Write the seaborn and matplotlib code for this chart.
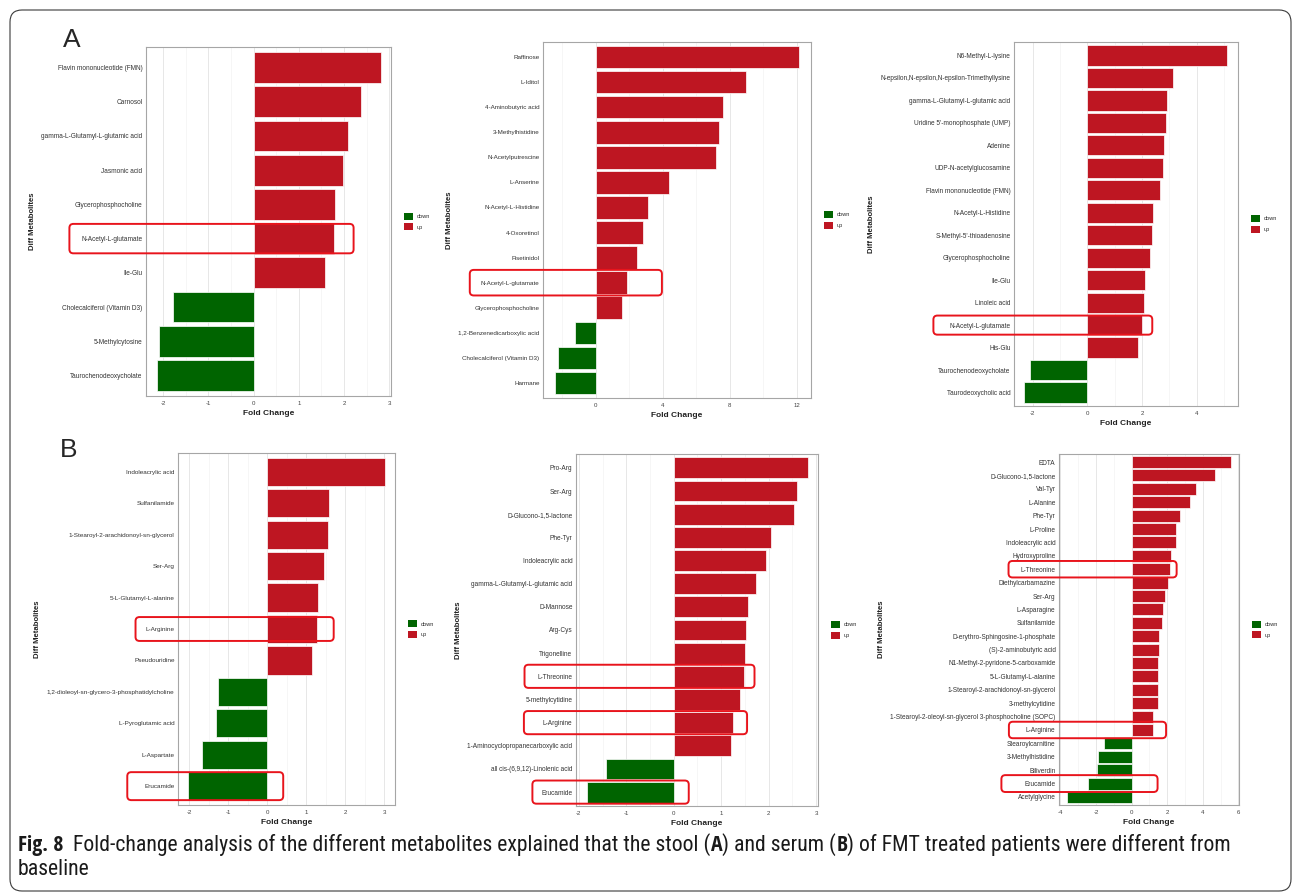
import matplotlib
matplotlib.use("Agg")
import matplotlib.pyplot as plt
from matplotlib import font_manager as fm
from matplotlib.patches import FancyBboxPatch, Patch
from matplotlib.transforms import IdentityTransform
from matplotlib.ticker import MultipleLocator
import numpy as np
import pandas as pd
import seaborn as sns

# ---------------- stool (A) ----------------
a1_names = ["Flavin mononucleotide (FMN)", "Carnosol", "gamma-L-Glutamyl-L-glutamic acid",
            "Jasmonic acid", "Glycerophosphocholine", "N-Acetyl-L-glutamate", "Ile-Glu",
            "Cholecalciferol (Vitamin D3)", "5-Methylcytosine", "Taurochenodeoxycholate"]
a1_fc = [2.82, 2.37, 2.09, 1.97, 1.80, 1.77, 1.59, -1.79, -2.10, -2.13]

a2_names = ["Raffinose", "L-Iditol", "4-Aminobutyric acid", "3-Methylhistidine",
            "N-Acetylputrescine", "L-Anserine", "N-Acetyl-L-Histidine", "4-Oxoretinol",
            "Fisetinidol", "N-Acetyl-L-glutamate", "Glycerophosphocholine",
            "1,2-Benzenedicarboxylic acid", "Cholecalciferol (Vitamin D3)", "Harmane"]
a2_fc = [12.10, 8.93, 7.58, 7.33, 7.15, 4.36, 3.10, 2.81, 2.43, 1.85, 1.57, -1.25, -2.29, -2.45]

a3_names = ["N6-Methyl-L-lysine", "N-epsilon,N-epsilon,N-epsilon-Trimethyllysine",
            "gamma-L-Glutamyl-L-glutamic acid", "Uridine 5'-monophosphate (UMP)", "Adenine",
            "UDP-N-acetylglucosamine", "Flavin mononucleotide (FMN)", "N-Acetyl-L-Histidine",
            "S-Methyl-5'-thioadenosine", "Glycerophosphocholine", "Ile-Glu", "Linoleic acid",
            "N-Acetyl-L-glutamate", "His-Glu", "Taurochenodeoxycholate", "Taurodeoxycholic acid"]
a3_fc = [5.12, 3.12, 2.93, 2.88, 2.80, 2.76, 2.64, 2.42, 2.36, 2.29, 2.11, 2.07, 2.01, 1.84,
         -2.10, -2.31]

# ---------------- serum (B) ----------------
b1_names = ["Indoleacrylic acid", "Sulfanilamide", "1-Stearoyl-2-arachidonoyl-sn-glycerol",
            "Ser-Arg", "5-L-Glutamyl-L-alanine", "L-Arginine", "Pseudouridine",
            "1,2-dioleoyl-sn-glycero-3-phosphatidylcholine", "L-Pyroglutamic acid",
            "L-Aspartate", "Erucamide"]
b1_fc = [3.03, 1.58, 1.55, 1.45, 1.31, 1.27, 1.15, -1.26, -1.32, -1.68, -2.03]

b2_names = ["Pro-Arg", "Ser-Arg", "D-Glucono-1,5-lactone", "Phe-Tyr", "Indoleacrylic acid",
            "gamma-L-Glutamyl-L-glutamic acid", "D-Mannose", "Arg-Cys", "Trigonelline",
            "L-Threonine", "5-methylcytidine", "L-Arginine",
            "1-Aminocyclopropanecarboxylic acid", "all cis-(6,9,12)-Linolenic acid", "Erucamide"]
b2_fc = [2.82, 2.60, 2.54, 2.06, 1.95, 1.74, 1.57, 1.52, 1.51, 1.47, 1.40, 1.25, 1.21,
         -1.43, -1.83]

b3_names = ["EDTA", "D-Glucono-1,5-lactone", "Val-Tyr", "L-Alanine", "Phe-Tyr", "L-Proline",
            "Indoleacrylic acid", "Hydroxyproline", "L-Threonine", "Diethylcarbamazine",
            "Ser-Arg", "L-Asparagine", "Sulfanilamide", "D-erythro-Sphingosine-1-phosphate",
            "(S)-2-aminobutyric acid", "N1-Methyl-2-pyridone-5-carboxamide",
            "5-L-Glutamyl-L-alanine", "1-Stearoyl-2-arachidonoyl-sn-glycerol",
            "3-methylcytidine", "1-Stearoyl-2-oleoyl-sn-glycerol 3-phosphocholine (SOPC)",
            "L-Arginine", "Stearoylcarnitine", "3-Methylhistidine", "Biliverdin", "Erucamide",
            "Acetylglycine"]
b3_fc = [5.61, 4.71, 3.64, 3.31, 2.74, 2.52, 2.50, 2.24, 2.14, 2.07, 1.90, 1.78, 1.73, 1.56,
         1.52, 1.50, 1.49, 1.48, 1.47, 1.22, 1.21, -1.56, -1.90, -1.97, -2.44, -3.62]

legend_labels = ["down", "up"]

caption_pieces = [
    ("Fig. 8", True),
    ("  Fold-change analysis of the different metabolites explained that the stool (", False),
    ("A", True), (") and serum (", False), ("B", True),
    (") of FMT treated patients were different from", False),
]
caption_line2 = "baseline"

# ---------------- style ----------------
sns.set_style("white")
plt.rcParams["font.family"] = ["Liberation Sans", "DejaVu Sans"]
plt.rcParams["axes.unicode_minus"] = False

RED = "#BE1622"
GREEN = "#006400"
BOX_RED = "#E8141C"
palette = {"down": GREEN, "up": RED}

W, H = 1295, 894
fig = plt.figure(figsize=(W / 100, H / 100), dpi=100)


def px_rect(l, t, r, b):
    return [l / W, 1 - b / H, (r - l) / W, (b - t) / H]


# panel frame (pixels), x range, tick steps, label size, highlighted rows
# highlight: (label, left pad, right pad, height in rows)
panels = [
    dict(names=a1_names, fc=a1_fc, frame=(146, 47, 391, 396), xlim=(-2.38, 3.04),
         major=1, minor=0.5, fs=4.7, hl=[("N-Acetyl-L-glutamate", 12, 20, 0.86)]),
    dict(names=a2_names, fc=a2_fc, frame=(543, 42, 811, 398), xlim=(-3.16, 12.84),
         major=4, minor=2, fs=4.5, hl=[("N-Acetyl-L-glutamate", 11, 35, 1.02)]),
    dict(names=a3_names, fc=a3_fc, frame=(1014, 42, 1238, 406), xlim=(-2.68, 5.51),
         major=2, minor=1, fs=4.7, hl=[("N-Acetyl-L-glutamate", 16, 10, 0.85)]),
    dict(names=b1_names, fc=b1_fc, frame=(178, 453, 395, 805), xlim=(-2.29, 3.28),
         major=1, minor=0.5, fs=4.6, hl=[("L-Arginine", 10, 17, 0.76),
                                          ("Erucamide", 17, 16, 0.89)]),
    dict(names=b2_names, fc=b2_fc, frame=(576, 454, 818, 806), xlim=(-2.06, 3.04),
         major=1, minor=0.5, fs=4.7, hl=[("L-Threonine", 13, 11, 1.0),
                                          ("L-Arginine", 19, 14, 1.0),
                                          ("Erucamide", 9, 15, 1.0)]),
    dict(names=b3_names, fc=b3_fc, frame=(1059, 454, 1239, 805), xlim=(-4.08, 6.04),
         major=2, minor=1, fs=4.7, hl=[("L-Threonine", 12, 7, 1.23),
                                        ("L-Arginine", 17, 13, 1.23),
                                        ("Erucamide", 23, 26, 1.26)]),
]

axes = []
for p in panels:
    ax = fig.add_axes(px_rect(*p["frame"]))
    df = pd.DataFrame({"metabolite": p["names"], "fc": p["fc"]})
    df["direction"] = np.where(df["fc"] > 0, "up", "down")
    sns.barplot(data=df, x="fc", y="metabolite", hue="direction", order=p["names"],
                hue_order=legend_labels, palette=palette, dodge=False, width=0.9,
                saturation=1, edgecolor="white", linewidth=0.5, legend=False, ax=ax)
    n = len(p["names"])
    ax.set_ylim(n - 0.4, -0.6)
    ax.set_xlim(*p["xlim"])
    ax.xaxis.set_major_locator(MultipleLocator(p["major"]))
    ax.xaxis.set_minor_locator(MultipleLocator(p["minor"]))
    ax.grid(axis="x", which="major", color="#E3E3E3", lw=0.6)
    ax.grid(axis="x", which="minor", color="#F0F0F0", lw=0.4)
    ax.set_axisbelow(True)
    for s in ax.spines.values():
        s.set_color("#A6A6A6")
        s.set_linewidth(0.8)
    ax.tick_params(axis="x", which="major", length=2, width=0.5, color="#666666",
                   labelsize=4.4, labelcolor="#444444", pad=1.5)
    ax.tick_params(axis="x", which="minor", length=0)
    ax.tick_params(axis="y", length=0, labelsize=p["fs"], labelcolor="#333333", pad=2.5)
    ax.set_xlabel("Fold Change", fontsize=6, fontweight="bold", labelpad=3, color="#222222")
    ax.set_ylabel("Diff Metabolites", fontsize=5.6, fontweight="bold", labelpad=4,
                  color="#222222")
    handles = [Patch(facecolor=palette[k], edgecolor="none", label=k) for k in legend_labels]
    axw = p["frame"][2] - p["frame"][0]
    ax.legend(handles=handles, loc="center left", bbox_to_anchor=(1 + 13 / axw, 0.5),
              frameon=False, fontsize=4, handlelength=1.6, handleheight=1.5,
              labelspacing=0.7, handletextpad=0.7, borderpad=0, borderaxespad=0)
    axes.append(ax)

# panel letters
fig.text(63 / W, 1 - 47 / H, "A", fontsize=19, va="baseline", ha="left")
fig.text(60 / W, 1 - 457 / H, "B", fontsize=19, va="baseline", ha="left")

# highlight boxes around selected rows
fig.canvas.draw()
renderer = fig.canvas.get_renderer()
for ax, p in zip(axes, panels):
    ticklabels = ax.get_yticklabels()
    for lab, lpad, rpad, hrows in p["hl"]:
        i = p["names"].index(lab)
        bb = ticklabels[i].get_window_extent(renderer)
        x0 = bb.x0 - lpad
        x1 = ax.transData.transform((max(p["fc"][i], 0), i))[0] + rpad
        yc = ax.transData.transform((0, i))[1]
        rowh = abs(ax.transData.transform((0, i + 0.5))[1]
                   - ax.transData.transform((0, i - 0.5))[1])
        h = rowh * hrows
        fig.add_artist(FancyBboxPatch((x0, yc - h / 2), x1 - x0, h,
                                      boxstyle="round,pad=0,rounding_size=4",
                                      transform=IdentityTransform(), fill=False,
                                      edgecolor=BOX_RED, lw=1.4, zorder=10))


# ---------------- caption ----------------
def _num(v, table, default):
    if isinstance(v, (int, float)):
        return v
    return table.get(v, default)


def condensed_font(bold):
    """Pick an installed narrow/condensed sans face, if any."""
    pref = ["Liberation Sans Narrow", "Open Sans", "Noto Sans", "Roboto", "DejaVu Sans",
            "Lato", "Inter"]
    target = 700 if bold else 400
    best, best_key = None, None
    for f in fm.fontManager.ttflist:
        nm = f.name
        if "Mono" in nm or "Serif" in nm or "CJK" in nm or f.style != "normal":
            continue
        cond = (_num(f.stretch, fm.stretch_dict, 500) < 500 or "Narrow" in nm
                or "Condensed" in nm or "Condensed" in f.fname)
        if not cond:
            continue
        rank = next((k for k, pname in enumerate(pref) if nm.startswith(pname)), len(pref))
        key = (abs(_num(f.weight, fm.weight_dict, 400) - target), rank)
        if best_key is None or key < best_key:
            best, best_key = f, key
    if best is None:
        return fm.FontProperties(family=["Liberation Sans", "DejaVu Sans"],
                                 weight="bold" if bold else "normal")
    return fm.FontProperties(fname=best.fname)


font_reg = condensed_font(False)
font_bold = condensed_font(True)

CAP_X0, CAP_X1 = 18, 1232
CAP_BASE1, CAP_BASE2 = 851, 875
cap_texts = []
for txt, bold in caption_pieces:
    t = fig.text(0, 0, txt, fontproperties=(font_bold if bold else font_reg).copy(),
                 va="baseline", ha="left", color="#1a1a1a", transform=IdentityTransform())
    cap_texts.append(t)
line2 = fig.text(0, 0, caption_line2, fontproperties=font_reg.copy(), va="baseline",
                 ha="left", color="#1a1a1a", transform=IdentityTransform())


def place_caption(size):
    for t in cap_texts + [line2]:
        t.set_fontsize(size)
    x = CAP_X0
    for t in cap_texts:
        t.set_position((x, H - CAP_BASE1))
        x = t.get_window_extent(renderer).x1
    line2.set_position((CAP_X0, H - CAP_BASE2))
    return x - CAP_X0


size = 14.5
for _ in range(3):
    width = place_caption(size)
    size = size * (CAP_X1 - CAP_X0) / width
place_caption(size)

# outer rounded frame
fig.add_artist(FancyBboxPatch((10, H - 891), 1281, 881,
                              boxstyle="round,pad=0,rounding_size=12",
                              transform=IdentityTransform(), fill=False,
                              edgecolor="#3a3a3a", lw=0.8))

fig.savefig("out.png", dpi=100, facecolor="white")
